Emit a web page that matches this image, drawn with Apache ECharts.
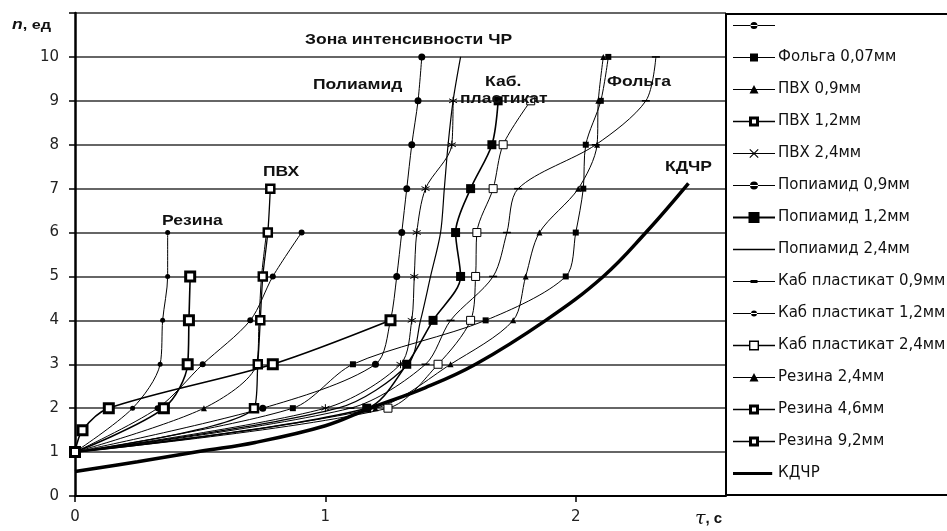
<!DOCTYPE html>
<html><head><meta charset="utf-8">
<script src="https://cdn.jsdelivr.net/npm/echarts@6/dist/echarts.min.js"></script>
<style>html,body{margin:0;padding:0;background:#fff}#c{width:947px;height:531px}</style>
</head><body><div id="c"></div>
<script>
// ---- data: [t (c), n (ед)] ----
const names = [' ', 'Фольга 0,07мм', 'ПВХ 0,9мм', 'ПВХ 1,2мм', 'ПВХ 2,4мм',
  'Попиамид 0,9мм', 'Попиамид 1,2мм', 'Попиамид 2,4мм',
  'Каб пластикат 0,9мм', 'Каб пластикат 1,2мм', 'Каб пластикат 2,4мм',
  'Резина 2,4мм', 'Резина 4,6мм', 'Резина 9,2мм', 'КДЧР'];
const xTicks = [0, 1, 2];
const yTicks = [0, 1, 2, 3, 4, 5, 6, 7, 8, 9, 10];

const d_blank = [[0,1],[0.23,2],[0.34,3],[0.35,4],[0.37,5],[0.37,6]];
const d_folga = [[0,1],[0.87,2],[1.11,3],[1.64,4],[1.96,5],[2.0,6],[2.03,7],[2.04,8],[2.1,9],[2.13,10]];
const d_pvh09 = [[0,1],[0.515,2],[0.725,3],[0.735,4],[0.745,5],[0.765,6]];
const d_pvh12 = [[0,1],[0.715,2],[0.73,3],[0.74,4],[0.75,5],[0.77,6],[0.78,7]];
const d_pvh24 = [[0,1],[1.0,2],[1.3,3],[1.345,4],[1.355,5],[1.365,6],[1.40,7],[1.505,8],[1.51,9]];
const d_pa09  = [[0,1],[0.75,2],[1.2,3],[1.26,4],[1.285,5],[1.305,6],[1.325,7],[1.345,8],[1.37,9],[1.385,10]];
const d_pa12  = [[0,1],[1.165,2],[1.325,3],[1.43,4],[1.54,5],[1.52,6],[1.58,7],[1.665,8],[1.69,9]];
const d_pa24  = [[0,1],[1.05,2],[1.33,3],[1.38,4],[1.42,5],[1.46,6],[1.475,7],[1.49,8],[1.51,9],[1.54,10]];
const d_kab09 = [[0,1],[1.1,2],[1.4,3],[1.5,4],[1.67,5],[1.725,6],[1.77,7],[2.08,8],[2.28,9],[2.32,10]];
const d_kab12 = [[0,1],[0.33,2],[0.51,3],[0.70,4],[0.79,5],[0.905,6]];
const d_kab24 = [[0,1],[1.25,2],[1.45,3],[1.58,4],[1.60,5],[1.605,6],[1.67,7],[1.71,8],[1.82,9]];
const d_rez24 = [[0,1],[1.2,2],[1.5,3],[1.75,4],[1.8,5],[1.855,6],[2.01,7],[2.085,8],[2.09,9],[2.11,10]];
const d_rez46 = [[0,1],[0.355,2],[0.45,3],[0.455,4],[0.46,5]];
const d_rez92 = [[0,1],[0.03,1.5],[0.135,2],[0.79,3],[1.26,4]];
const d_kdchr = [[0,0.56],[0.25,0.78],[0.5,1.02],[0.72,1.22],[1.0,1.6],[1.17,1.98],[1.4,2.47],[1.6,3.0],[1.88,4.0],[2.11,5.0],[2.28,6.0],[2.45,7.12]];

const dataList = [d_blank, d_folga, d_pvh09, d_pvh12, d_pvh24, d_pa09, d_pa12, d_pa24,
  d_kab09, d_kab12, d_kab24, d_rez24, d_rez46, d_rez92, d_kdchr];

// ---- styles ----
const STAR = 'path://M5,0L5,10M0,2.5L10,7.5M0,7.5L10,2.5';
const sq = (size, fill, bw) => ({symbol:'rect', symbolSize:size, itemStyle:{color:fill, borderColor:'#000', borderWidth:bw}});
const styles = [
  {symbol:'circle', symbolSize:5, itemStyle:{color:'#000'}, lw:1},
  Object.assign(sq(6,'#000',0), {lw:1}),
  {symbol:'triangle', symbolSize:6, itemStyle:{color:'#000'}, lw:1},
  Object.assign(sq(8,'#fff',2.5), {lw:1.3}),
  {symbol:STAR, symbolSize:8, itemStyle:{color:'none', borderColor:'#000', borderWidth:1}, lw:1},
  {symbol:'circle', symbolSize:7, itemStyle:{color:'#000'}, lw:1},
  Object.assign(sq(9,'#000',0), {lw:1.6}),
  {symbol:'none', symbolSize:0, itemStyle:{color:'#000'}, lw:1.2},
  {symbol:'rect', symbolSize:[8,1.5], itemStyle:{color:'#000'}, lw:1},
  {symbol:'circle', symbolSize:6, itemStyle:{color:'#000'}, lw:1},
  Object.assign(sq(8,'#fff',1), {lw:1}),
  {symbol:'triangle', symbolSize:6, itemStyle:{color:'#000'}, lw:1},
  Object.assign(sq(9,'#fff',3), {lw:1.6}),
  Object.assign(sq(9,'#fff',3), {lw:1.6}),
  {symbol:'none', symbolSize:0, itemStyle:{color:'#000'}, lw:3.5}
];

// ---- legend icons (42 x 14 box) ----
const BOX = 'M0,0L0,0ZM42,14L42,14Z';
const LINE = 'M0,6.4H42V7.6H0Z';
const LINE_SPLIT = 'M0,6.3H16H16V7.7H0ZM26,6.3H42V7.7H26Z';
const RING = 'M16,2H26V12H16ZM19,5V9H23V5Z';
const icons = [
  BOX + LINE + 'M17.5,7A3.5,3.5,0,1,0,24.5,7A3.5,3.5,0,1,0,17.5,7Z',
  BOX + LINE + 'M17,3H25V11H17Z',
  BOX + LINE + 'M21,2.5L25.5,11H16.5Z',
  BOX + LINE_SPLIT + RING,
  BOX + LINE + 'M16.4,3.2L17.2,2.4L25.6,10.8L24.8,11.6ZM24.8,2.4L25.6,3.2L17.2,11.6L16.4,10.8Z',
  BOX + LINE + 'M17,7A4,4,0,1,0,25,7A4,4,0,1,0,17,7Z',
  BOX + 'M0,6.1H42V7.9H0Z' + 'M15.5,1.5H26.5V12.5H15.5Z',
  BOX + 'M0,6.2H42V7.8H0Z',
  BOX + LINE + 'M17.5,5.6H24.5V8.4H17.5Z',
  BOX + LINE + 'M18,7A3,3,0,1,0,24,7A3,3,0,1,0,18,7Z',
  BOX + LINE_SPLIT + 'M16,2H26V12H16ZM17.4,3.4V10.6H24.6V3.4Z',
  BOX + LINE + 'M21,2.5L25.5,11H16.5Z',
  BOX + LINE_SPLIT + RING,
  BOX + LINE_SPLIT + RING,
  BOX + 'M-3,5.3H39V8.7H-3Z'
];

const series = dataList.map((d, i) => ({
  type:'line', name:names[i], data:d,
  smooth: i === 14 ? 0.4 : 0.3,
  symbol:styles[i].symbol, symbolSize:styles[i].symbolSize,
  showSymbol: styles[i].symbol !== 'none',
  itemStyle: styles[i].itemStyle,
  lineStyle:{color:'#000', width:styles[i].lw},
  z: i === 14 ? 9 : 10,
  emphasis:{disabled:true}
}));

const chart = echarts.init(document.getElementById('c'), null, {renderer:'canvas'});
const FONT = 'DejaVu Sans';
const ANN = 'bold 14px "Liberation Sans"';
const ann = (txt, x, y) => ({type:'text', z:100, x:x, y:y, scaleX:1.25,
  style:{text:txt, font:ANN, fill:'#111', verticalAlign:'middle', align:'left'}});
chart.setOption({
  animation:false,
  backgroundColor:'#fff',
  grid:{left:75, right:221, top:13, bottom:35, containLabel:false},
  xAxis:{type:'value', min:0, max:2.6, interval:1,
    axisLine:{lineStyle:{color:'#000', width:2}},
    axisTick:{length:6, lineStyle:{color:'#000', width:1.5}, customValues:xTicks},
    axisLabel:{margin:14, color:'#222', fontSize:15, fontFamily:FONT, customValues:xTicks},
    splitLine:{show:false}},
  yAxis:{type:'value', min:0, max:11, interval:1,
    axisLine:{show:true, lineStyle:{color:'#000', width:2.5}},
    axisTick:{show:true, length:6, lineStyle:{color:'#000', width:1.5}},
    axisLabel:{margin:16, color:'#222', fontSize:15, fontFamily:FONT,
      formatter:v => yTicks.indexOf(v) >= 0 ? String(v) : ''},
    splitLine:{show:true, lineStyle:{color:'#333', width:1.6}}},
  legend:{orient:'vertical', left:728, top:13, itemWidth:42, itemHeight:14, itemGap:17,
    selectedMode:false,
    itemStyle:{color:'#000', borderWidth:0, borderColor:'#000', opacity:1},
    data:names.map((n, i) => ({name:n, icon:'path://' + icons[i]})),
    textStyle:{fontFamily:FONT, fontSize:15, color:'#111', padding:[0,0,0,-2]}},
  graphic:[
    {type:'rect', z:100, shape:{x:726, y:14, width:240, height:481},
      style:{fill:'none', stroke:'#000', lineWidth:2}},
    {type:'text', z:100, x:12, y:25, scaleX:1.25, style:{text:'{i|n}{b|, ед}', verticalAlign:'middle',
      rich:{i:{fontStyle:'italic', fontSize:14, fontFamily:'Liberation Sans', fontWeight:'bold', fill:'#111'},
            b:{fontSize:13, fontFamily:'Liberation Sans', fontWeight:'bold', fill:'#111'}}}},
    {type:'text', z:100, x:695, y:519, style:{text:'{i|τ}{b|, c}', verticalAlign:'middle',
      rich:{i:{fontStyle:'italic', fontSize:19, fontFamily:'DejaVu Serif', fill:'#111'},
            b:{fontSize:15, fontFamily:'Liberation Sans', fontWeight:'bold', fill:'#111'}}}},
    ann('Зона интенсивности ЧР', 305, 40),
    ann('Полиамид', 313, 85),
    ann('ПВХ', 263, 172),
    ann('Резина', 162, 221),
    ann('Каб.', 485, 82),
    ann('пластикат', 460, 99),
    ann('Фольга', 607, 82),
    ann('КДЧР', 665, 167)
  ],
  series: series
});
</script></body></html>
